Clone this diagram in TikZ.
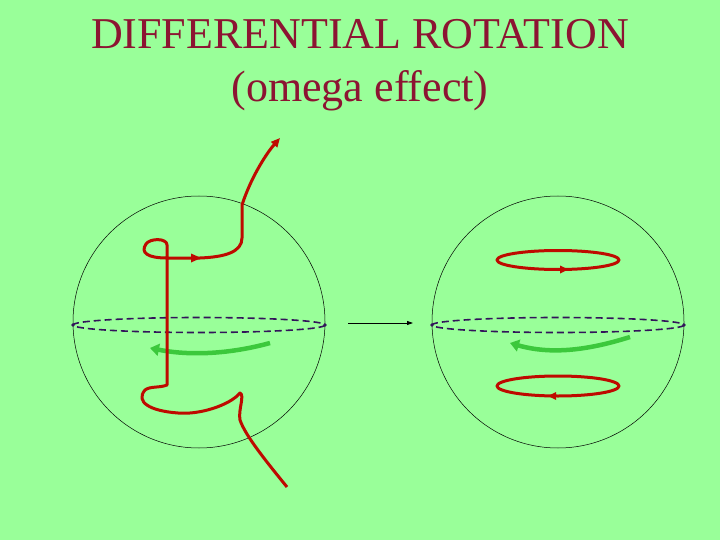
\documentclass[tikz,border=0pt]{standalone}
\usepackage{fontspec}
\setmainfont{Liberation Serif}
\usetikzlibrary{arrows.meta,decorations.markings}
\definecolor{bg}{RGB}{153,255,153}
\definecolor{ttl}{RGB}{140,20,50}
\definecolor{fred}{RGB}{190,10,0}
\definecolor{fgreen}{RGB}{60,200,60}
\definecolor{eq}{RGB}{50,20,90}
\begin{document}
\begin{tikzpicture}[x=1pt,y=-1pt,
  sphere/.style={draw=black,line width=0.5pt},
  equator/.style={draw=eq,line width=1.6pt,dash pattern=on 7pt off 4pt},
  field/.style={draw=fred,line width=3pt,line join=round},
  flow/.style={draw=fgreen,line width=4.5pt,-{Triangle[length=9pt,width=12pt]}}]
\fill[bg] (0,0) rectangle (720,540);
\useasboundingbox (0,0) rectangle (720,540);
\node[text=ttl,font=\fontsize{44}{53}\selectfont,align=center] (title) at (360,65) {DIFFERENTIAL ROTATION\\(omega effect)};
% left sphere
\node[sphere,circle,minimum size=252pt,inner sep=0pt] (s1) at (199,322) {};
\draw[equator] (199,325) ellipse [x radius=126,y radius=7.5];
\fill[eq] (73,325) circle (1.8) (325,325) circle (1.8);
\draw[flow] (270,343) .. controls (230,354) and (190,356) .. (150,348);
\draw[field,-{Triangle[length=9pt,width=8pt]}] (287,487) .. controls (265,460) and (245,435) .. (240,420)
  .. controls (238,410) and (245,395) .. (240,393)
  .. controls (230,405) and (200,415) .. (178,413)
  .. controls (150,411) and (135,402) .. (145,390)
  .. controls (150,386) and (160,388) .. (167,385)
  -- (167,245) .. controls (167,238) and (150,238) .. (146,244)
  .. controls (140,253) and (148,258) .. (167,258)
  -- (200,258) .. controls (225,257) and (242,252) .. (242,238)
  -- (242,205) .. controls (250,180) and (265,155) .. (280,138);
\fill[fred] (201,258) -- (191,253.5) -- (191,262.5) -- cycle;
% arrow between
\coordinate (a1) at (348,323);
\coordinate (a2) at (413,323);
\draw[-{Triangle[length=6pt,width=4pt]},line width=0.8pt] (a1) -- (a2);
% right sphere
\node[sphere,circle,minimum size=252pt,inner sep=0pt] (s2) at (558,322) {};
\draw[equator] (558,325) ellipse [x radius=126,y radius=7.5];
\fill[eq] (432,325) circle (1.8) (684,325) circle (1.8);
\draw[flow] (630,337) .. controls (595,348) and (555,356) .. (510,343);
\draw[field] (558,260) ellipse [x radius=61,y radius=9.5];
\fill[fred] (568,269.5) -- (560,265.5) -- (560,273.5) -- cycle;
\draw[field] (558,386) ellipse [x radius=61,y radius=10];
\fill[fred] (548,396) -- (556,392) -- (556,400) -- cycle;
\end{tikzpicture}
\end{document}
